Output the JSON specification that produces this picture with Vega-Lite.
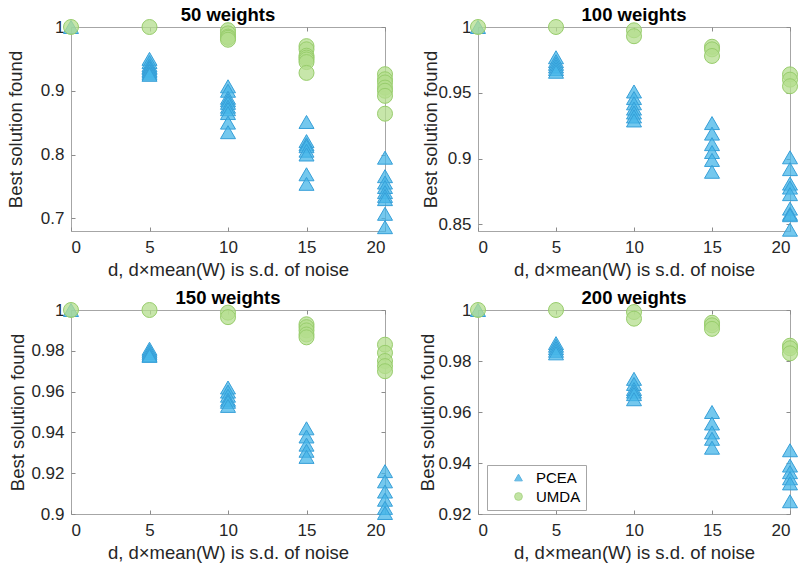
{
  "$schema": "https://vega.github.io/schema/vega-lite/v6.json",
  "background": "white",
  "padding": {"left": 5, "top": 5, "right": 0, "bottom": 4},
  "bounds": "flush",
  "spacing": {"row": 79, "column": 93},
  "columns": 2,
  "data": {"values": [
    {"w":"50 weights","d":0,"v":1,"a":"PCEA"},
    {"w":"50 weights","d":5,"v":0.95,"a":"PCEA"},
    {"w":"50 weights","d":5,"v":0.945,"a":"PCEA"},
    {"w":"50 weights","d":5,"v":0.94,"a":"PCEA"},
    {"w":"50 weights","d":5,"v":0.937,"a":"PCEA"},
    {"w":"50 weights","d":5,"v":0.935,"a":"PCEA"},
    {"w":"50 weights","d":5,"v":0.932,"a":"PCEA"},
    {"w":"50 weights","d":5,"v":0.93,"a":"PCEA"},
    {"w":"50 weights","d":5,"v":0.927,"a":"PCEA"},
    {"w":"50 weights","d":5,"v":0.925,"a":"PCEA"},
    {"w":"50 weights","d":10,"v":0.907,"a":"PCEA"},
    {"w":"50 weights","d":10,"v":0.9,"a":"PCEA"},
    {"w":"50 weights","d":10,"v":0.889,"a":"PCEA"},
    {"w":"50 weights","d":10,"v":0.885,"a":"PCEA"},
    {"w":"50 weights","d":10,"v":0.881,"a":"PCEA"},
    {"w":"50 weights","d":10,"v":0.875,"a":"PCEA"},
    {"w":"50 weights","d":10,"v":0.871,"a":"PCEA"},
    {"w":"50 weights","d":10,"v":0.865,"a":"PCEA"},
    {"w":"50 weights","d":10,"v":0.85,"a":"PCEA"},
    {"w":"50 weights","d":10,"v":0.835,"a":"PCEA"},
    {"w":"50 weights","d":15,"v":0.851,"a":"PCEA"},
    {"w":"50 weights","d":15,"v":0.821,"a":"PCEA"},
    {"w":"50 weights","d":15,"v":0.816,"a":"PCEA"},
    {"w":"50 weights","d":15,"v":0.813,"a":"PCEA"},
    {"w":"50 weights","d":15,"v":0.806,"a":"PCEA"},
    {"w":"50 weights","d":15,"v":0.8,"a":"PCEA"},
    {"w":"50 weights","d":15,"v":0.769,"a":"PCEA"},
    {"w":"50 weights","d":15,"v":0.754,"a":"PCEA"},
    {"w":"50 weights","d":20,"v":0.795,"a":"PCEA"},
    {"w":"50 weights","d":20,"v":0.766,"a":"PCEA"},
    {"w":"50 weights","d":20,"v":0.756,"a":"PCEA"},
    {"w":"50 weights","d":20,"v":0.749,"a":"PCEA"},
    {"w":"50 weights","d":20,"v":0.741,"a":"PCEA"},
    {"w":"50 weights","d":20,"v":0.735,"a":"PCEA"},
    {"w":"50 weights","d":20,"v":0.73,"a":"PCEA"},
    {"w":"50 weights","d":20,"v":0.707,"a":"PCEA"},
    {"w":"50 weights","d":20,"v":0.686,"a":"PCEA"},
    {"w":"50 weights","d":0,"v":1,"a":"UMDA"},
    {"w":"50 weights","d":5,"v":1,"a":"UMDA"},
    {"w":"50 weights","d":10,"v":0.995,"a":"UMDA"},
    {"w":"50 weights","d":10,"v":0.99,"a":"UMDA"},
    {"w":"50 weights","d":10,"v":0.985,"a":"UMDA"},
    {"w":"50 weights","d":10,"v":0.983,"a":"UMDA"},
    {"w":"50 weights","d":10,"v":0.98,"a":"UMDA"},
    {"w":"50 weights","d":15,"v":0.97,"a":"UMDA"},
    {"w":"50 weights","d":15,"v":0.965,"a":"UMDA"},
    {"w":"50 weights","d":15,"v":0.955,"a":"UMDA"},
    {"w":"50 weights","d":15,"v":0.952,"a":"UMDA"},
    {"w":"50 weights","d":15,"v":0.949,"a":"UMDA"},
    {"w":"50 weights","d":15,"v":0.945,"a":"UMDA"},
    {"w":"50 weights","d":15,"v":0.928,"a":"UMDA"},
    {"w":"50 weights","d":20,"v":0.926,"a":"UMDA"},
    {"w":"50 weights","d":20,"v":0.918,"a":"UMDA"},
    {"w":"50 weights","d":20,"v":0.913,"a":"UMDA"},
    {"w":"50 weights","d":20,"v":0.905,"a":"UMDA"},
    {"w":"50 weights","d":20,"v":0.9,"a":"UMDA"},
    {"w":"50 weights","d":20,"v":0.892,"a":"UMDA"},
    {"w":"50 weights","d":20,"v":0.864,"a":"UMDA"},

    {"w":"100 weights","d":0,"v":1,"a":"PCEA"},
    {"w":"100 weights","d":5,"v":0.977,"a":"PCEA"},
    {"w":"100 weights","d":5,"v":0.974,"a":"PCEA"},
    {"w":"100 weights","d":5,"v":0.972,"a":"PCEA"},
    {"w":"100 weights","d":5,"v":0.97,"a":"PCEA"},
    {"w":"100 weights","d":5,"v":0.968,"a":"PCEA"},
    {"w":"100 weights","d":5,"v":0.966,"a":"PCEA"},
    {"w":"100 weights","d":10,"v":0.951,"a":"PCEA"},
    {"w":"100 weights","d":10,"v":0.946,"a":"PCEA"},
    {"w":"100 weights","d":10,"v":0.942,"a":"PCEA"},
    {"w":"100 weights","d":10,"v":0.938,"a":"PCEA"},
    {"w":"100 weights","d":10,"v":0.935,"a":"PCEA"},
    {"w":"100 weights","d":10,"v":0.932,"a":"PCEA"},
    {"w":"100 weights","d":10,"v":0.929,"a":"PCEA"},
    {"w":"100 weights","d":15,"v":0.927,"a":"PCEA"},
    {"w":"100 weights","d":15,"v":0.919,"a":"PCEA"},
    {"w":"100 weights","d":15,"v":0.911,"a":"PCEA"},
    {"w":"100 weights","d":15,"v":0.905,"a":"PCEA"},
    {"w":"100 weights","d":15,"v":0.899,"a":"PCEA"},
    {"w":"100 weights","d":15,"v":0.89,"a":"PCEA"},
    {"w":"100 weights","d":20,"v":0.901,"a":"PCEA"},
    {"w":"100 weights","d":20,"v":0.892,"a":"PCEA"},
    {"w":"100 weights","d":20,"v":0.881,"a":"PCEA"},
    {"w":"100 weights","d":20,"v":0.878,"a":"PCEA"},
    {"w":"100 weights","d":20,"v":0.873,"a":"PCEA"},
    {"w":"100 weights","d":20,"v":0.862,"a":"PCEA"},
    {"w":"100 weights","d":20,"v":0.858,"a":"PCEA"},
    {"w":"100 weights","d":20,"v":0.857,"a":"PCEA"},
    {"w":"100 weights","d":20,"v":0.846,"a":"PCEA"},
    {"w":"100 weights","d":0,"v":1,"a":"UMDA"},
    {"w":"100 weights","d":5,"v":1,"a":"UMDA"},
    {"w":"100 weights","d":10,"v":0.9975,"a":"UMDA"},
    {"w":"100 weights","d":10,"v":0.993,"a":"UMDA"},
    {"w":"100 weights","d":15,"v":0.985,"a":"UMDA"},
    {"w":"100 weights","d":15,"v":0.983,"a":"UMDA"},
    {"w":"100 weights","d":15,"v":0.978,"a":"UMDA"},
    {"w":"100 weights","d":20,"v":0.964,"a":"UMDA"},
    {"w":"100 weights","d":20,"v":0.96,"a":"UMDA"},
    {"w":"100 weights","d":20,"v":0.955,"a":"UMDA"},

    {"w":"150 weights","d":0,"v":1,"a":"PCEA"},
    {"w":"150 weights","d":5,"v":0.981,"a":"PCEA"},
    {"w":"150 weights","d":5,"v":0.98,"a":"PCEA"},
    {"w":"150 weights","d":5,"v":0.979,"a":"PCEA"},
    {"w":"150 weights","d":5,"v":0.978,"a":"PCEA"},
    {"w":"150 weights","d":5,"v":0.9775,"a":"PCEA"},
    {"w":"150 weights","d":10,"v":0.962,"a":"PCEA"},
    {"w":"150 weights","d":10,"v":0.96,"a":"PCEA"},
    {"w":"150 weights","d":10,"v":0.958,"a":"PCEA"},
    {"w":"150 weights","d":10,"v":0.956,"a":"PCEA"},
    {"w":"150 weights","d":10,"v":0.955,"a":"PCEA"},
    {"w":"150 weights","d":10,"v":0.953,"a":"PCEA"},
    {"w":"150 weights","d":15,"v":0.942,"a":"PCEA"},
    {"w":"150 weights","d":15,"v":0.938,"a":"PCEA"},
    {"w":"150 weights","d":15,"v":0.934,"a":"PCEA"},
    {"w":"150 weights","d":15,"v":0.931,"a":"PCEA"},
    {"w":"150 weights","d":15,"v":0.928,"a":"PCEA"},
    {"w":"150 weights","d":20,"v":0.921,"a":"PCEA"},
    {"w":"150 weights","d":20,"v":0.916,"a":"PCEA"},
    {"w":"150 weights","d":20,"v":0.911,"a":"PCEA"},
    {"w":"150 weights","d":20,"v":0.907,"a":"PCEA"},
    {"w":"150 weights","d":20,"v":0.903,"a":"PCEA"},
    {"w":"150 weights","d":20,"v":0.9005,"a":"PCEA"},
    {"w":"150 weights","d":0,"v":1,"a":"UMDA"},
    {"w":"150 weights","d":5,"v":1,"a":"UMDA"},
    {"w":"150 weights","d":10,"v":0.9987,"a":"UMDA"},
    {"w":"150 weights","d":10,"v":0.9965,"a":"UMDA"},
    {"w":"150 weights","d":15,"v":0.993,"a":"UMDA"},
    {"w":"150 weights","d":15,"v":0.9916,"a":"UMDA"},
    {"w":"150 weights","d":15,"v":0.99,"a":"UMDA"},
    {"w":"150 weights","d":15,"v":0.988,"a":"UMDA"},
    {"w":"150 weights","d":15,"v":0.9866,"a":"UMDA"},
    {"w":"150 weights","d":20,"v":0.983,"a":"UMDA"},
    {"w":"150 weights","d":20,"v":0.979,"a":"UMDA"},
    {"w":"150 weights","d":20,"v":0.975,"a":"UMDA"},
    {"w":"150 weights","d":20,"v":0.9725,"a":"UMDA"},
    {"w":"150 weights","d":20,"v":0.97,"a":"UMDA"},

    {"w":"200 weights","d":0,"v":1,"a":"PCEA"},
    {"w":"200 weights","d":5,"v":0.987,"a":"PCEA"},
    {"w":"200 weights","d":5,"v":0.986,"a":"PCEA"},
    {"w":"200 weights","d":5,"v":0.985,"a":"PCEA"},
    {"w":"200 weights","d":5,"v":0.984,"a":"PCEA"},
    {"w":"200 weights","d":5,"v":0.983,"a":"PCEA"},
    {"w":"200 weights","d":10,"v":0.973,"a":"PCEA"},
    {"w":"200 weights","d":10,"v":0.971,"a":"PCEA"},
    {"w":"200 weights","d":10,"v":0.969,"a":"PCEA"},
    {"w":"200 weights","d":10,"v":0.968,"a":"PCEA"},
    {"w":"200 weights","d":10,"v":0.967,"a":"PCEA"},
    {"w":"200 weights","d":10,"v":0.965,"a":"PCEA"},
    {"w":"200 weights","d":15,"v":0.96,"a":"PCEA"},
    {"w":"200 weights","d":15,"v":0.9555,"a":"PCEA"},
    {"w":"200 weights","d":15,"v":0.952,"a":"PCEA"},
    {"w":"200 weights","d":15,"v":0.9495,"a":"PCEA"},
    {"w":"200 weights","d":15,"v":0.946,"a":"PCEA"},
    {"w":"200 weights","d":20,"v":0.945,"a":"PCEA"},
    {"w":"200 weights","d":20,"v":0.939,"a":"PCEA"},
    {"w":"200 weights","d":20,"v":0.9364,"a":"PCEA"},
    {"w":"200 weights","d":20,"v":0.934,"a":"PCEA"},
    {"w":"200 weights","d":20,"v":0.932,"a":"PCEA"},
    {"w":"200 weights","d":20,"v":0.925,"a":"PCEA"},
    {"w":"200 weights","d":0,"v":1,"a":"UMDA"},
    {"w":"200 weights","d":5,"v":1,"a":"UMDA"},
    {"w":"200 weights","d":10,"v":0.9992,"a":"UMDA"},
    {"w":"200 weights","d":10,"v":0.9966,"a":"UMDA"},
    {"w":"200 weights","d":15,"v":0.995,"a":"UMDA"},
    {"w":"200 weights","d":15,"v":0.994,"a":"UMDA"},
    {"w":"200 weights","d":15,"v":0.9926,"a":"UMDA"},
    {"w":"200 weights","d":20,"v":0.986,"a":"UMDA"},
    {"w":"200 weights","d":20,"v":0.985,"a":"UMDA"},
    {"w":"200 weights","d":20,"v":0.983,"a":"UMDA"}
  ]},
  "concat": [
    {
      "width": 314, "height": 204,
      "title": "50 weights",
      "transform": [{"filter": "datum.w == '50 weights'"}],
      "layer": [
        {
          "mark": {"type": "point", "filled": true, "size": 225, "fillOpacity": 0.75, "strokeWidth": 1},
          "encoding": {
            "x": {"field": "d", "type": "quantitative", "scale": {"domain": [0, 20], "nice": false}, "axis": {"values": [0, 5, 10, 15, 20], "title": "d, d×mean(W) is s.d. of noise"}},
            "y": {"field": "v", "type": "quantitative", "scale": {"domain": [0.68, 1], "nice": false, "zero": false}, "axis": {"values": [0.7, 0.8, 0.9, 1], "format": "~g", "title": "Best solution found", "titleX": -46}},
            "shape": {"field": "a", "type": "nominal", "scale": {"domain": ["PCEA", "UMDA"], "range": ["triangle-up", "circle"]}, "legend": {"orient": "none", "legendX": 416, "legendY": 438, "title": null}},
            "fill": {"field": "a", "type": "nominal", "scale": {"domain": ["PCEA", "UMDA"], "range": ["#45B5E8", "#B4DE8E"]}, "legend": {"orient": "none", "legendX": 416, "legendY": 438, "title": null}},
            "stroke": {"field": "a", "type": "nominal", "scale": {"domain": ["PCEA", "UMDA"], "range": ["#369FD8", "#98CD6C"]}, "legend": {"orient": "none", "legendX": 416, "legendY": 438, "title": null}}
          }
        },
        {
          "mark": {"type": "point", "opacity": 0},
          "encoding": {
            "x": {"field": "d", "type": "quantitative", "scale": {"domain": [0, 20], "nice": false}, "axis": {"orient": "top", "values": [0, 5, 10, 15, 20], "labels": false, "title": null}},
            "y": {"field": "v", "type": "quantitative", "scale": {"domain": [0.68, 1], "nice": false, "zero": false}, "axis": {"orient": "right", "values": [0.7, 0.8, 0.9, 1], "labels": false, "title": null}}
          }
        }
      ],
      "resolve": {"axis": {"x": "independent", "y": "independent"}}
    },
    {
      "width": 312, "height": 204,
      "title": "100 weights",
      "transform": [{"filter": "datum.w == '100 weights'"}],
      "layer": [
        {
          "mark": {"type": "point", "filled": true, "size": 225, "fillOpacity": 0.75, "strokeWidth": 1},
          "encoding": {
            "x": {"field": "d", "type": "quantitative", "scale": {"domain": [0, 20], "nice": false}, "axis": {"values": [0, 5, 10, 15, 20], "title": "d, d×mean(W) is s.d. of noise"}},
            "y": {"field": "v", "type": "quantitative", "scale": {"domain": [0.845, 1], "nice": false, "zero": false}, "axis": {"values": [0.85, 0.9, 0.95, 1], "format": "~g", "title": "Best solution found", "titleX": -38}},
            "shape": {"field": "a", "type": "nominal"},
            "fill": {"field": "a", "type": "nominal"},
            "stroke": {"field": "a", "type": "nominal"}
          }
        },
        {
          "mark": {"type": "point", "opacity": 0},
          "encoding": {
            "x": {"field": "d", "type": "quantitative", "scale": {"domain": [0, 20], "nice": false}, "axis": {"orient": "top", "values": [0, 5, 10, 15, 20], "labels": false, "title": null}},
            "y": {"field": "v", "type": "quantitative", "scale": {"domain": [0.845, 1], "nice": false, "zero": false}, "axis": {"orient": "right", "values": [0.85, 0.9, 0.95, 1], "labels": false, "title": null}}
          }
        }
      ],
      "resolve": {"axis": {"x": "independent", "y": "independent"}}
    },
    {
      "width": 314, "height": 204,
      "title": "150 weights",
      "transform": [{"filter": "datum.w == '150 weights'"}],
      "layer": [
        {
          "mark": {"type": "point", "filled": true, "size": 225, "fillOpacity": 0.75, "strokeWidth": 1},
          "encoding": {
            "x": {"field": "d", "type": "quantitative", "scale": {"domain": [0, 20], "nice": false}, "axis": {"values": [0, 5, 10, 15, 20], "title": "d, d×mean(W) is s.d. of noise"}},
            "y": {"field": "v", "type": "quantitative", "scale": {"domain": [0.9, 1], "nice": false, "zero": false}, "axis": {"values": [0.9, 0.92, 0.94, 0.96, 0.98, 1], "format": "~g", "title": "Best solution found", "titleX": -44}},
            "shape": {"field": "a", "type": "nominal"},
            "fill": {"field": "a", "type": "nominal"},
            "stroke": {"field": "a", "type": "nominal"}
          }
        },
        {
          "mark": {"type": "point", "opacity": 0},
          "encoding": {
            "x": {"field": "d", "type": "quantitative", "scale": {"domain": [0, 20], "nice": false}, "axis": {"orient": "top", "values": [0, 5, 10, 15, 20], "labels": false, "title": null}},
            "y": {"field": "v", "type": "quantitative", "scale": {"domain": [0.9, 1], "nice": false, "zero": false}, "axis": {"orient": "right", "values": [0.9, 0.92, 0.94, 0.96, 0.98, 1], "labels": false, "title": null}}
          }
        }
      ],
      "resolve": {"axis": {"x": "independent", "y": "independent"}}
    },
    {
      "width": 312, "height": 204,
      "title": "200 weights",
      "transform": [{"filter": "datum.w == '200 weights'"}],
      "layer": [
        {
          "mark": {"type": "point", "filled": true, "size": 225, "fillOpacity": 0.75, "strokeWidth": 1},
          "encoding": {
            "x": {"field": "d", "type": "quantitative", "scale": {"domain": [0, 20], "nice": false}, "axis": {"values": [0, 5, 10, 15, 20], "title": "d, d×mean(W) is s.d. of noise"}},
            "y": {"field": "v", "type": "quantitative", "scale": {"domain": [0.92, 1], "nice": false, "zero": false}, "axis": {"values": [0.92, 0.94, 0.96, 0.98, 1], "format": "~g", "title": "Best solution found", "titleX": -41}},
            "shape": {"field": "a", "type": "nominal"},
            "fill": {"field": "a", "type": "nominal"},
            "stroke": {"field": "a", "type": "nominal"}
          }
        },
        {
          "mark": {"type": "point", "opacity": 0},
          "encoding": {
            "x": {"field": "d", "type": "quantitative", "scale": {"domain": [0, 20], "nice": false}, "axis": {"orient": "top", "values": [0, 5, 10, 15, 20], "labels": false, "title": null}},
            "y": {"field": "v", "type": "quantitative", "scale": {"domain": [0.92, 1], "nice": false, "zero": false}, "axis": {"orient": "right", "values": [0.92, 0.94, 0.96, 0.98, 1], "labels": false, "title": null}}
          }
        }
      ],
      "resolve": {"axis": {"x": "independent", "y": "independent"}}
    }
  ],
  "config": {
    "font": "Liberation Sans",
    "view": {"stroke": "#a6a6a6", "strokeWidth": 1},
    "title": {"fontSize": 18.5, "fontWeight": "bold", "color": "#000000", "offset": -7, "font": "Liberation Sans"},
    "axis": {
      "labelFont": "Liberation Sans", "labelFontSize": 17, "labelColor": "#262626", "labelOverlap": false,
      "titleFont": "Liberation Sans", "titleFontSize": 18.5, "titleFontWeight": "normal", "titleColor": "#262626",
      "domain": false, "grid": false, "tickColor": "#8c8c8c", "tickSize": -4
    },
    "axisX": {"labelPadding": 12, "titlePadding": 5},
    "axisY": {"labelPadding": 11, "titleY": 102},
    "legend": {
      "strokeColor": "#a6a6a6", "fillColor": "white", "padding": 5,
      "labelFont": "Liberation Sans", "labelFontSize": 15, "labelColor": "#000000",
      "symbolSize": 60, "symbolOffset": 19, "labelOffset": 10, "rowPadding": 3,
      "symbolStrokeWidth": 1, "symbolOpacity": 0.8
    }
  }
}
